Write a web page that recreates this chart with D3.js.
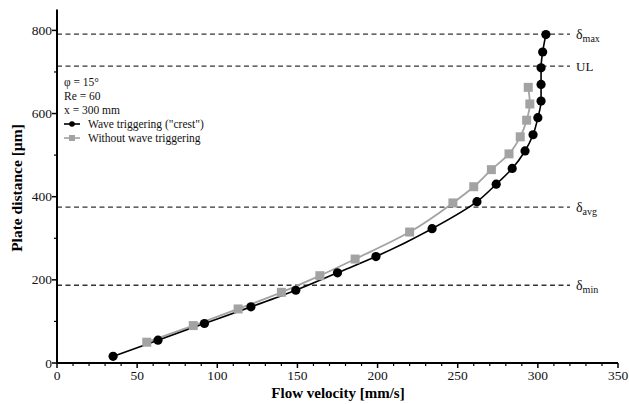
<!DOCTYPE html>
<html><head><meta charset="utf-8">
<script src="https://cdn.jsdelivr.net/npm/d3@7/dist/d3.min.js"></script>
<style>body{margin:0;background:#fff}svg text{font-family:"Liberation Serif","Times New Roman",serif}</style>
</head><body><svg id="c" width="629" height="404"></svg>
<script>
const crestX = [35,63,92,121,149,175,199,234,262,274,284,292,297,300,302,302,302,303,305];
const crestY = [16,55,95,135,175,217,256,323,388,430,468,510,549,590,630,670,710,748,790];
const noWaveX = [56,85,113,140,164,186,220,247,260,271,282,289,293,295,294];
const noWaveY = [50,90,130,170,210,250,315,385,424,465,503,544,584,623,663];
const refLines = [{v:791,label:"δ",sub:"max"},{v:714,label:"UL",sub:""},{v:375,label:"δ",sub:"avg"},{v:187,label:"δ",sub:"min"}];
const xTicks = [0,50,100,150,200,250,300,350];
const yTicks = [0,200,400,600,800];
const legendInfo = ["φ = 15°","Re = 60","x = 300 mm"];
const seriesNames = ['Wave triggering ("crest")','Without wave triggering'];

const svg = d3.select("#c");
const x = d3.scaleLinear().domain([0,350]).range([57,618]);
const y = d3.scaleLinear().domain([0,850]).range([363,9.6]);

// reference lines
refLines.forEach(r=>{
  svg.append("line").attr("x1",x(0)).attr("x2",570).attr("y1",y(r.v)).attr("y2",y(r.v))
    .attr("stroke","#333").attr("stroke-width",1.3).attr("stroke-dasharray","5,3.5");
  const t = svg.append("text").attr("x",576).attr("y",y(r.v)+4.5).attr("font-size",r.sub?14:13).attr("fill","#111").text(r.label);
  if(r.sub) t.append("tspan").attr("dy",3).attr("font-size",10).text(r.sub);
});

// axes
const xAxis = svg.append("g").attr("transform",`translate(0,${y(0)})`);
xAxis.append("line").attr("x1",x(0)).attr("x2",x(350)).attr("stroke","#000").attr("stroke-width",2);
d3.range(0,351,10).forEach(v=>{
  const major = v%50===0;
  xAxis.append("line").attr("x1",x(v)).attr("x2",x(v)).attr("y1",0).attr("y2",major?5:3).attr("stroke","#000").attr("stroke-width",major?1.5:1.2);
});
xTicks.forEach(v=>xAxis.append("text").attr("x",x(v)).attr("y",17).attr("text-anchor","middle").attr("font-size",13.5).attr("fill","#111").text(v));

const yAxis = svg.append("g");
yAxis.append("line").attr("x1",x(0)).attr("x2",x(0)).attr("y1",y(0)).attr("y2",y(850)).attr("stroke","#000").attr("stroke-width",2);
d3.range(0,851,100).forEach(v=>{
  const major = v%200===0;
  yAxis.append("line").attr("x1",x(0)).attr("x2",x(0)-(major?5:3)).attr("y1",y(v)).attr("y2",y(v)).attr("stroke","#000").attr("stroke-width",major?1.5:1.2);
});
yTicks.forEach(v=>yAxis.append("text").attr("x",x(0)-5).attr("y",y(v)+4.5).attr("text-anchor","end").attr("font-size",13.5).attr("fill","#111").text(v));

svg.append("text").attr("x",338).attr("y",398).attr("text-anchor","middle").attr("font-size",15).attr("font-weight","bold").text("Flow velocity [mm/s]");
svg.append("text").attr("transform","translate(22,188) rotate(-90)").attr("text-anchor","middle").attr("font-size",15.5).attr("font-weight","bold").text("Plate distance [µm]");

// series
const line = d3.line().x(d=>x(d[0])).y(d=>y(d[1])).curve(d3.curveMonotoneY);
const grey = "#a3a3a3";
const nw = noWaveX.map((v,i)=>[v,noWaveY[i]]);
const cr = crestX.map((v,i)=>[v,crestY[i]]);
svg.append("path").datum(nw).attr("d",line).attr("fill","none").attr("stroke",grey).attr("stroke-width",1.8);
svg.append("path").datum(cr).attr("d",line).attr("fill","none").attr("stroke","#000").attr("stroke-width",1.6);
svg.selectAll(".sq").data(nw).enter().append("rect").attr("x",d=>x(d[0])-4.5).attr("y",d=>y(d[1])-4.5).attr("width",9).attr("height",9).attr("fill",grey);
svg.selectAll(".ci").data(cr).enter().append("circle").attr("cx",d=>x(d[0])).attr("cy",d=>y(d[1])).attr("r",4.6).attr("fill","#000");

// legend
legendInfo.forEach((s,i)=>svg.append("text").attr("x",64).attr("y",86+i*14).attr("font-size",11.5).attr("fill","#111").text(s));
const ly = [124,138];
svg.append("line").attr("x1",64).attr("x2",80).attr("y1",ly[0]).attr("y2",ly[0]).attr("stroke","#000").attr("stroke-width",1.6);
svg.append("circle").attr("cx",72).attr("cy",ly[0]).attr("r",2.8).attr("fill","#000");
svg.append("line").attr("x1",64).attr("x2",80).attr("y1",ly[1]).attr("y2",ly[1]).attr("stroke",grey).attr("stroke-width",1.6);
svg.append("rect").attr("x",69).attr("y",ly[1]-3).attr("width",6).attr("height",6).attr("fill",grey);
seriesNames.forEach((s,i)=>svg.append("text").attr("x",88).attr("y",ly[i]+4).attr("font-size",11.5).attr("fill","#111").text(s));
</script></body></html>
